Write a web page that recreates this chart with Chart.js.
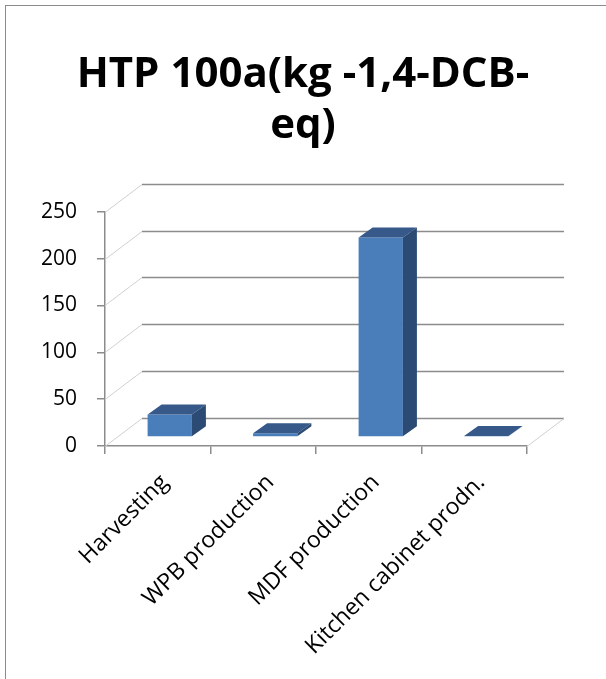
<!DOCTYPE html>
<html>
<head>
<meta charset="utf-8">
<script src="https://cdn.jsdelivr.net/npm/chart.js@4.4.1/dist/chart.umd.min.js"></script>
<style>
  html, body { margin: 0; padding: 0; background: #fff; }
  #wrap { width: 606px; height: 679px; }
</style>
</head>
<body>
<div id="wrap"><canvas id="htpChart" width="606" height="679"></canvas></div>
<script>
// data
var categories = ['Harvesting', 'WPB production', 'MDF production', 'Kitchen cabinet prodn.'];
var htpValues = [24, 4, 213, 1];
var titleLines = ['HTP 100a(kg -1,4-DCB-', 'eq)'];
var yTicks = [0, 50, 100, 150, 200, 250];

// 3d look
var DEPTH_X = 37, DEPTH_Y = 28;    // back wall offset
var BAR_FX = 12, BAR_FY = 9;       // bar front face offset
var BAR_SX = 14, BAR_SY = 10;      // bar depth

var frame3d = {
    id: 'frame3d',
    beforeDraw: function (chart) {
        var ctx = chart.ctx;
        ctx.save();
        ctx.strokeStyle = '#8c8c8c';
        ctx.lineWidth = 1;
        ctx.strokeRect(5.5, 5.5, 800, 800);
        ctx.restore();
    },
    beforeDatasetsDraw: function (chart) {
        var ctx = chart.ctx, a = chart.chartArea, ys = chart.scales.y;
        ctx.save();
        ctx.lineWidth = 1;
        yTicks.forEach(function (v) {
            var yy = Math.round(ys.getPixelForValue(v)) + 0.5;
            ctx.strokeStyle = '#d0d0d0';
            ctx.beginPath();
            ctx.moveTo(a.left, yy);
            ctx.lineTo(a.left + DEPTH_X, yy - DEPTH_Y);
            ctx.stroke();
            ctx.strokeStyle = '#8c8c8c';
            ctx.lineWidth = 1.5;
            ctx.beginPath();
            ctx.moveTo(a.left + DEPTH_X, yy - DEPTH_Y);
            ctx.lineTo(a.right + DEPTH_X, yy - DEPTH_Y);
            ctx.stroke();
            ctx.lineWidth = 1;
        });
        // floor right edge
        ctx.strokeStyle = '#d0d0d0';
        ctx.beginPath();
        ctx.moveTo(a.right, a.bottom + 0.5);
        ctx.lineTo(a.right + DEPTH_X, a.bottom + 0.5 - DEPTH_Y);
        ctx.stroke();
        ctx.restore();
        // shift bar front faces into the floor
        ctx.save();
        ctx.translate(BAR_FX, -BAR_FY);
    },
    afterDatasetsDraw: function (chart) {
        var ctx = chart.ctx;
        ctx.restore();
        ctx.save();
        chart.getDatasetMeta(0).data.forEach(function (bar) {
            var p = bar.getProps(['x', 'y', 'base', 'width'], true);
            var l = p.x - p.width / 2 + BAR_FX;
            var r = p.x + p.width / 2 + BAR_FX;
            var t = p.y - BAR_FY;
            var b = p.base - BAR_FY;
            // top
            ctx.fillStyle = '#36598a';
            ctx.beginPath();
            ctx.moveTo(l, t);
            ctx.lineTo(r, t);
            ctx.lineTo(r + BAR_SX, t - BAR_SY);
            ctx.lineTo(l + BAR_SX, t - BAR_SY);
            ctx.closePath();
            ctx.fill();
            // side
            ctx.fillStyle = '#2b4a74';
            ctx.beginPath();
            ctx.moveTo(r, t);
            ctx.lineTo(r + BAR_SX, t - BAR_SY);
            ctx.lineTo(r + BAR_SX, b - BAR_SY);
            ctx.lineTo(r, b);
            ctx.closePath();
            ctx.fill();
        });
        ctx.restore();
    }
};

var ctx = document.getElementById('htpChart').getContext('2d');
var htpChart = new Chart(ctx, {
    type: 'bar',
    data: {
        labels: categories,
        datasets: [{
            data: htpValues,
            backgroundColor: '#4a7ebb',
            borderWidth: 0,
            categoryPercentage: 1,
            barPercentage: 0.42
        }]
    },
    options: {
        responsive: false,
        animation: false,
        layout: { padding: 0 },
        plugins: {
            legend: { display: false },
            tooltip: { enabled: false },
            title: {
                display: true,
                text: titleLines,
                color: '#000',
                font: { family: 'Open Sans', size: 42, weight: 'bold', lineHeight: 1.2 },
                padding: { top: 50, bottom: 61 }
            }
        },
        scales: {
            x: {
                afterFit: function (scale) { scale.height = 233; },
                grid: { display: true, offset: true, drawOnChartArea: false, tickLength: 8, color: '#8c8c8c', lineWidth: 1.5 },
                border: { display: true, color: '#8c8c8c', width: 1.5 },
                ticks: {
                    minRotation: 45,
                    maxRotation: 45,
                    color: '#000',
                    padding: 15,
                    labelOffset: 7,
                    font: { family: 'Open Sans', size: 23 }
                }
            },
            y: {
                min: 0,
                max: 250,
                afterFit: function (scale) { scale.width = 105; },
                grid: { display: true, drawOnChartArea: false, tickLength: 8, color: '#8c8c8c', lineWidth: 1.5 },
                border: { display: true, color: '#8c8c8c', width: 1.5 },
                ticks: {
                    stepSize: 50,
                    color: '#000',
                    padding: 20,
                    font: { family: 'Open Sans', size: 21 }
                }
            },
            // empty right margin so the title centres on the whole box
            yRight: {
                position: 'right',
                min: 0,
                max: 250,
                afterFit: function (scale) { scale.width = 79; },
                grid: { display: false },
                border: { display: false },
                ticks: { display: false }
            }
        }
    },
    plugins: [frame3d]
});
</script>
</body>
</html>
